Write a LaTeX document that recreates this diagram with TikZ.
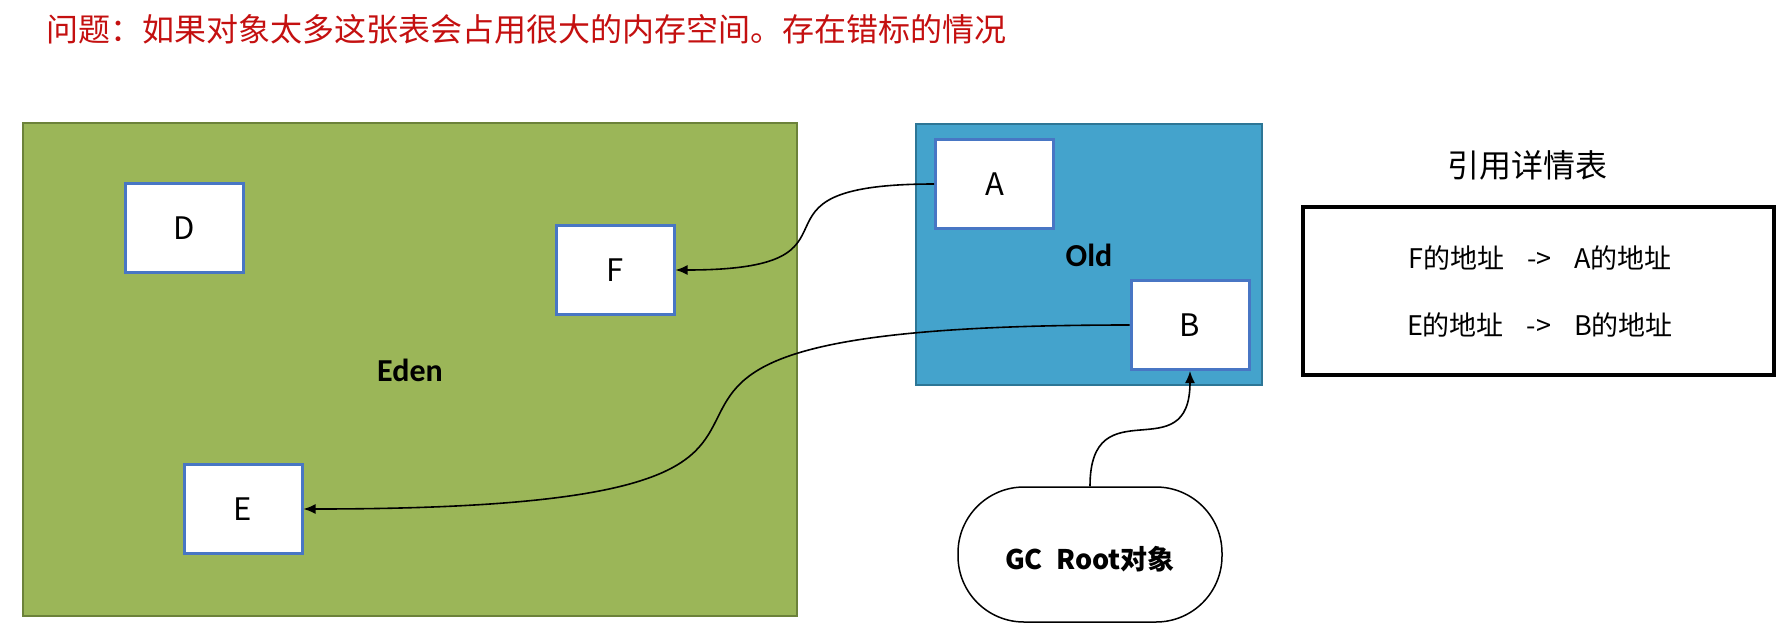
\documentclass[tikz,border=0pt]{standalone}
\usepackage{fontspec}
\setmainfont{Noto Sans CJK SC}
\newfontfamily\latfont{Carlito}
\usetikzlibrary{arrows.meta,positioning}

\definecolor{edenfill}{RGB}{155,182,88}
\definecolor{edenline}{RGB}{108,130,58}
\definecolor{oldfill}{RGB}{68,163,204}
\definecolor{oldline}{RGB}{45,118,150}
\definecolor{objline}{RGB}{72,118,196}
\definecolor{titlered}{RGB}{196,16,16}

\tikzset{
    obj/.style={draw=objline, line width=3pt, fill=white, inner sep=0pt,
        minimum width=118pt, minimum height=89pt, font=\fontsize{31}{31}\selectfont},
    ref/.style={-{Latex[length=12pt,width=10pt]}, line width=1.6pt, black},
    area/.style={line width=2.5pt, inner sep=0pt}
}

\begin{document}
\begin{tikzpicture}[x=1pt, y=-1pt]

    % --- 画布 ---
    \useasboundingbox (0,0) rectangle (1789,641);

    % --- 标题 ---
    \node[anchor=west, text=titlered, font=\fontsize{32}{32}\selectfont] (question) at (43,29)
        {问题：如果对象太多这张表会占用很大的内存空间。存在错标的情况};

    % --- 区域 ---
    % 1. Eden 区 (绿色)
    \node[area, draw=edenline, fill=edenfill, minimum width=774pt, minimum height=493pt] (eden) at (410,369.5) {};
    \node[font=\latfont\bfseries\fontsize{32}{32}\selectfont] (edenlabel) at (410,370) {Eden};

    % 2. Old 区 (蓝色)
    \node[area, draw=oldline, fill=oldfill, minimum width=346pt, minimum height=261pt] (old) at (1089,254.5) {};
    \node[font=\latfont\bfseries\fontsize{32}{32}\selectfont] (oldlabel) at (1089,255) {Old};

    % --- 对象 ---
    \node[obj] (D) at (184,228) {D};
    \node[obj] (F) at (615,270) {F};
    \node[obj] (E) at (243,509) {E};
    \node[obj] (A) at (994.5,184) {A};
    \node[obj] (B) at (1190,325) {B};

    % --- GC Root ---
    \node[draw, line width=1.5pt, fill=white, rounded corners=66pt, minimum width=264pt, minimum height=135pt,
        text height=30pt, text depth=0pt, font=\bfseries\fontsize{27}{27}\selectfont] (gc) at (1090,554.5) {GC\hspace{0.5em}Root对象};

    % --- 引用详情表 ---
    \node[font=\fontsize{32}{32}\selectfont] (tabletitle) at (1527,165) {引用详情表};
    \node[draw, line width=3.5pt, minimum width=471pt, minimum height=168pt] (table) at (1538.5,291) {};
    \node[font=\fontsize{27}{27}\selectfont] (row1) at (1540,258) {F的地址\hspace{0.85em}->\hspace{0.85em}A的地址};
    \node[font=\fontsize{27}{27}\selectfont] (row2) at (1540,325) {E的地址\hspace{0.85em}->\hspace{0.85em}B的地址};

    % --- 引用关系 ---
    \draw[ref] (A.west) to[out=180, in=0, looseness=2.0] (F.east);
    \draw[ref] (B.west) to[out=180, in=0, looseness=2.2] (E.east);
    \draw[ref] (gc.north) to[out=90, in=-90, looseness=1.7] (B.south);

\end{tikzpicture}
\end{document}
